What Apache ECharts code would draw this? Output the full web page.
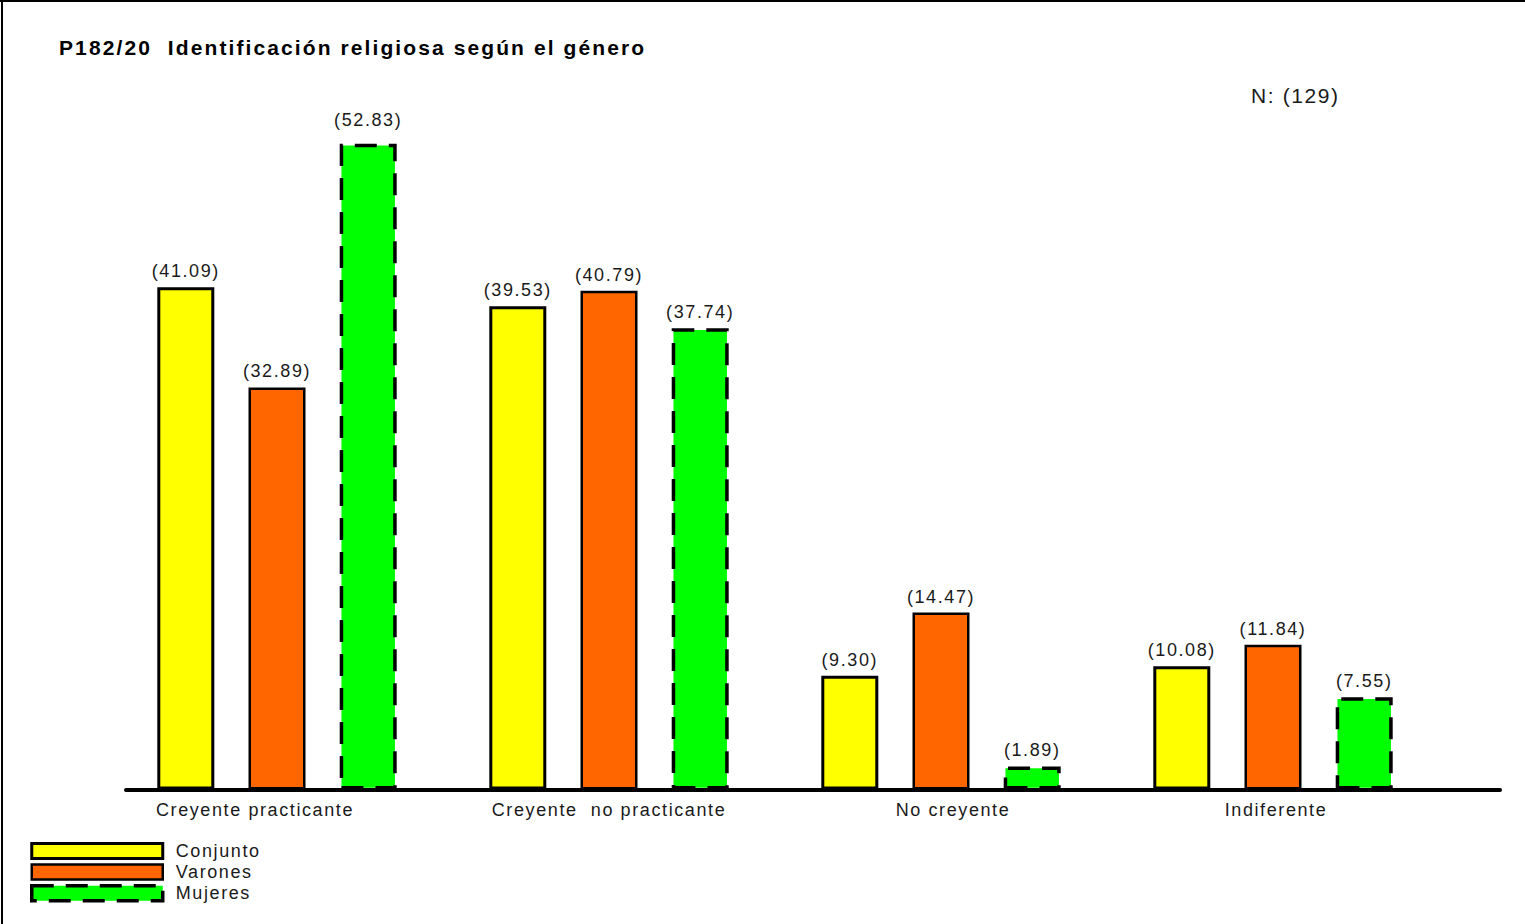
<!DOCTYPE html>
<html>
<head>
<meta charset="utf-8">
<title>P182/20 Identificación religiosa según el género</title>
<script src="https://cdn.jsdelivr.net/npm/echarts@6/dist/echarts.min.js"></script>
<style>
  html, body { margin: 0; padding: 0; background: #fff; }
  #chart { width: 1525px; height: 924px; }
  /* tracked lettering, as in the printed report */
  #chart text { letter-spacing: 1.6px; }
  #chart text[style*="bold"] { letter-spacing: 2.1px; }
</style>
</head>
<body>
<div id="chart"></div>
<script>
// Categories and percentages by gender
const categories = ['Creyente practicante', 'Creyente  no practicante', 'No creyente', 'Indiferente'];
const conjunto = [41.09, 39.53, 9.30, 10.08];
const varones = [32.89, 40.79, 14.47, 11.84];
const mujeres = [52.83, 37.74, 1.89, 7.55];
const seriesNames = ['Conjunto', 'Varones', 'Mujeres'];
const sampleText = 'N: (129)';
const titleText = 'P182/20  Identificación religiosa según el género';

const FONT = '"Liberation Sans", Arial, sans-serif';
const TEXT_COLOR = '#1a1a1a';

// horizontal nudges for the category captions (px, applied via padding)
const captionPadding = [[0, 44, 0, 0], [0, 0, 0, 0], [0, 0, 0, 24], [0, 0, 0, 6]];

const styles = [
  { color: '#ffff00', borderColor: '#000', borderWidth: 3, borderType: 'solid' },
  { color: '#ff6600', borderColor: '#000', borderWidth: 2.5, borderType: 'solid' },
  { color: '#00ff00', borderColor: '#000', borderWidth: 3.5, borderType: [22, 12] }
];

const chart = echarts.init(document.getElementById('chart'), null, { renderer: 'svg' });

const label = {
  show: true,
  position: 'top',
  distance: 7,
  fontFamily: FONT,
  fontSize: 18,
  color: TEXT_COLOR,
  formatter: p => '(' + p.value.toFixed(2) + ')'
};

function barSeries(name, values, style) {
  return {
    name: name,
    type: 'bar',
    data: values,
    barWidth: 57,
    barGap: '60%',
    itemStyle: style,
    label: label,
    emphasis: { disabled: true }
  };
}

chart.setOption({
  animation: false,
  backgroundColor: '#fff',
  title: {
    text: titleText,
    left: 54,
    top: 32,
    textStyle: { fontFamily: FONT, fontSize: 21, fontWeight: 'bold', color: '#000' }
  },
  legend: {
    orient: 'vertical',
    left: 25,
    top: 837,
    itemWidth: 131,
    itemHeight: 15,
    itemGap: 3,
    icon: 'rect',
    selectedMode: false,
    data: seriesNames.map((n, i) => ({ name: n, itemStyle: styles[i] })),
    textStyle: {
      fontFamily: FONT, fontSize: 18, color: TEXT_COLOR,
      lineHeight: 18, padding: [0, 0, 0, 8]
    }
  },
  grid: { left: 111, right: 86, top: 56, bottom: 134.5 },
  xAxis: {
    type: 'category',
    data: categories.map((c, i) => ({ value: c, textStyle: { padding: captionPadding[i] } })),
    axisLine: { show: false },
    axisTick: { show: false },
    axisLabel: { margin: 11, fontFamily: FONT, fontSize: 18, color: TEXT_COLOR }
  },
  yAxis: { type: 'value', min: 0, max: 60, show: false },
  series: [
    barSeries(seriesNames[0], conjunto, styles[0]),
    barSeries(seriesNames[1], varones, styles[1]),
    barSeries(seriesNames[2], mujeres, styles[2])
  ],
  // the tallest label sits a little higher above its bar
  labelLayout: p => (p.seriesIndex === 2 && p.dataIndex === 0 ? { dy: -8 } : {}),
  graphic: [
    // frame
    { type: 'line', shape: { x1: 0, y1: 1, x2: 1525, y2: 1 }, style: { stroke: '#000', lineWidth: 2 } },
    { type: 'line', shape: { x1: 2, y1: 0, x2: 2, y2: 924 }, style: { stroke: '#000', lineWidth: 2 } },
    // base line
    { type: 'line', z: 100, shape: { x1: 126, y1: 790, x2: 1500, y2: 790 },
      style: { stroke: '#000', lineWidth: 4, lineCap: 'round' } },
    // sample size
    { type: 'text', left: 1251, top: 85,
      style: { text: sampleText, fontFamily: FONT, fontSize: 21, fill: TEXT_COLOR } }
  ]
});
</script>
</body>
</html>
